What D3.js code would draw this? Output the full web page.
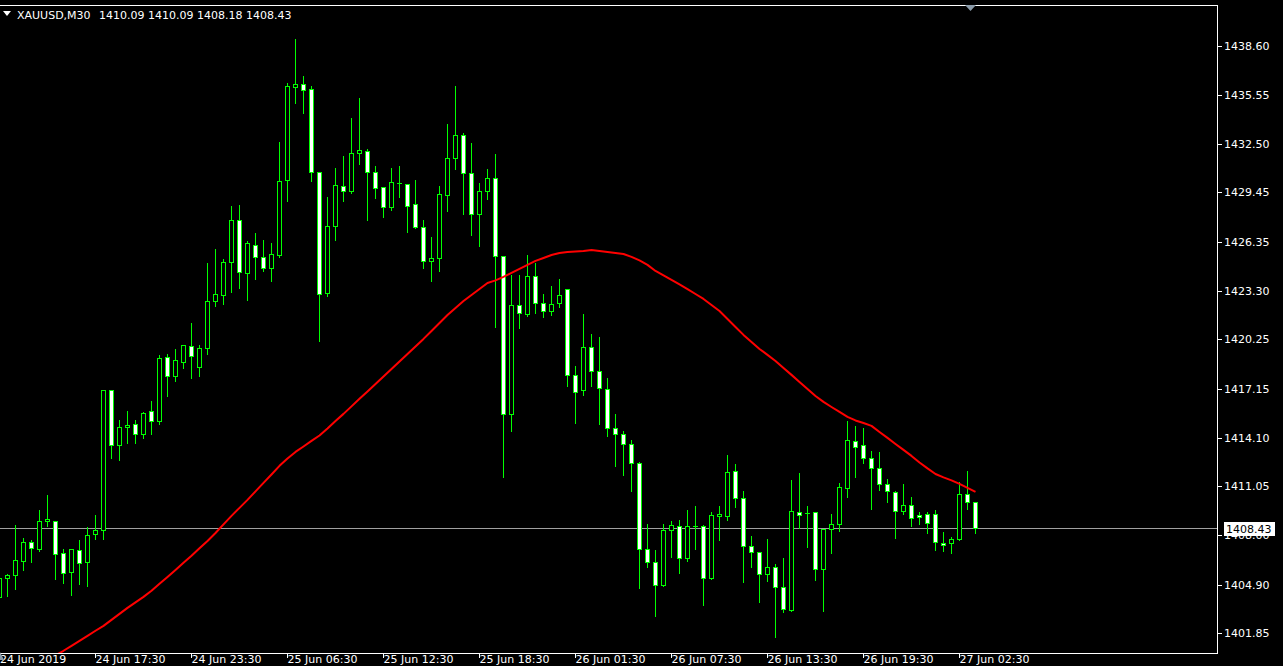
<!DOCTYPE html>
<html><head><meta charset="utf-8">
<script src="https://cdn.jsdelivr.net/npm/d3@7"></script>
<style>html,body{margin:0;padding:0;background:#000;overflow:hidden}svg{display:block}</style>
</head><body><svg id="c" width="1283" height="666"></svg>
<script>
const symbolLabel = "XAUUSD,M30";
const headerValues = ["1410.09", "1410.09", "1408.18", "1408.43"];
const bidPrice = 1408.43;

const opens = [1404.15,1405.32,1405.51,1406.38,1407.59,1407.11,1408.88,1408.91,1406.86,1405.69,1407.09,1406.32,1408.09,1408.34,1417.10,1413.63,1414.76,1414.93,1414.32,1415.74,1415.14,1419.16,1417.95,1418.83,1419.85,1418.51,1419.70,1422.64,1423.02,1425.10,1427.73,1424.39,1426.17,1425.42,1424.70,1425.52,1430.21,1436.02,1436.24,1435.92,1430.73,1423.14,1427.33,1429.86,1429.52,1431.92,1432.05,1430.73,1429.80,1428.52,1430.02,1429.98,1428.73,1427.29,1425.17,1425.35,1429.29,1431.61,1433.05,1430.67,1428.11,1429.54,1430.36,1425.48,1415.60,1422.42,1421.83,1424.23,1422.54,1422.04,1422.54,1423.42,1418.04,1417.10,1419.79,1418.29,1417.16,1414.72,1414.35,1413.72,1412.53,1407.16,1406.34,1404.88,1408.34,1408.59,1406.59,1408.59,1408.59,1405.34,1409.19,1409.19,1412.03,1410.34,1407.34,1406.97,1405.59,1406.03,1404.78,1403.34,1409.47,1409.38,1409.47,1405.91,1408.41,1408.69,1410.95,1413.91,1413.66,1412.85,1412.22,1411.22,1410.72,1409.51,1409.91,1409.28,1409.34,1409.34,1407.53,1407.53,1407.78,1410.60,1410.09];
const highs = [1405.55,1405.66,1408.68,1407.91,1407.78,1409.61,1410.55,1408.93,1407.17,1407.16,1407.74,1408.55,1409.30,1417.16,1417.12,1415.24,1415.80,1415.24,1415.74,1416.43,1419.31,1419.37,1419.68,1419.93,1421.31,1419.99,1425.06,1425.94,1425.35,1428.63,1428.69,1426.44,1426.94,1426.50,1426.37,1432.69,1436.38,1439.13,1436.76,1436.19,1430.81,1429.19,1431.06,1431.81,1434.19,1435.44,1432.23,1431.13,1429.81,1431.06,1431.13,1430.06,1430.31,1427.75,1426.70,1429.88,1433.77,1436.19,1433.21,1432.57,1430.08,1430.96,1431.88,1425.50,1424.35,1424.37,1425.62,1425.06,1423.18,1423.68,1424.12,1423.43,1418.62,1421.93,1420.62,1420.43,1417.87,1415.62,1414.60,1413.99,1412.62,1408.74,1407.11,1408.74,1408.93,1408.99,1409.61,1409.86,1408.68,1409.49,1409.86,1413.05,1412.49,1410.80,1408.03,1406.98,1407.80,1406.28,1406.61,1411.49,1411.93,1409.86,1409.53,1408.41,1409.36,1411.30,1415.18,1414.87,1414.74,1413.35,1413.24,1411.60,1410.82,1411.24,1410.47,1409.53,1409.53,1409.61,1408.24,1407.94,1411.41,1412.05,1410.09];
const lows = [1403.98,1404.24,1404.67,1405.86,1406.38,1407.07,1408.63,1405.30,1405.07,1404.30,1405.00,1404.88,1407.80,1407.82,1412.88,1412.74,1413.82,1413.82,1414.14,1414.37,1415.01,1416.76,1417.70,1418.51,1417.89,1418.01,1419.39,1422.39,1422.52,1423.27,1423.52,1422.77,1424.08,1424.58,1423.95,1425.44,1428.96,1435.09,1434.46,1430.21,1420.20,1423.00,1426.50,1428.96,1429.50,1431.27,1427.77,1429.14,1427.96,1428.38,1429.21,1427.02,1427.28,1424.77,1423.95,1424.58,1428.33,1430.96,1428.14,1426.83,1426.14,1429.11,1421.08,1411.70,1414.57,1421.01,1421.77,1421.95,1421.70,1421.85,1422.33,1417.39,1415.07,1416.85,1417.39,1415.01,1414.26,1412.38,1411.82,1410.82,1404.75,1406.07,1403.00,1404.87,1406.69,1405.69,1406.44,1407.19,1403.69,1405.33,1407.76,1408.99,1409.82,1405.13,1406.07,1403.88,1405.19,1401.69,1403.25,1403.33,1408.49,1407.32,1405.25,1403.32,1406.94,1408.32,1410.45,1411.70,1412.57,1409.69,1410.88,1410.11,1407.88,1409.38,1408.63,1408.76,1408.19,1407.13,1407.07,1406.94,1407.77,1409.69,1408.18];
const closes = [1405.34,1405.53,1406.42,1407.59,1407.19,1408.91,1408.99,1406.84,1405.66,1407.16,1406.28,1408.03,1408.34,1417.10,1413.63,1414.79,1414.87,1414.35,1415.62,1415.14,1419.10,1417.95,1418.98,1419.87,1419.20,1419.73,1422.67,1423.10,1425.10,1427.73,1424.48,1426.29,1425.42,1424.70,1425.60,1430.17,1436.11,1436.24,1435.84,1430.71,1423.06,1427.36,1429.88,1429.54,1431.92,1432.11,1430.73,1429.73,1428.54,1430.11,1430.02,1428.61,1427.29,1425.17,1425.35,1429.36,1431.61,1433.05,1430.67,1428.11,1429.54,1430.36,1425.48,1415.60,1422.42,1421.92,1424.23,1422.54,1422.04,1422.48,1423.04,1418.04,1416.97,1419.79,1418.29,1417.22,1414.72,1414.35,1413.72,1412.53,1407.16,1406.34,1404.90,1408.30,1408.66,1406.59,1408.59,1408.59,1405.34,1409.28,1409.30,1411.97,1410.32,1407.34,1406.97,1405.59,1406.03,1404.78,1403.38,1409.53,1409.28,1409.38,1405.91,1408.41,1408.72,1411.03,1413.97,1413.53,1412.82,1412.20,1411.20,1410.76,1409.51,1409.91,1409.09,1409.16,1408.76,1407.57,1407.41,1407.78,1410.60,1410.09,1408.43];
const maValues = [1398.61,1398.86,1399.11,1399.42,1399.67,1399.98,1400.23,1400.51,1400.80,1401.11,1401.42,1401.73,1402.05,1402.36,1402.73,1403.11,1403.48,1403.83,1404.17,1404.55,1404.99,1405.42,1405.86,1406.30,1406.74,1407.21,1407.67,1408.17,1408.71,1409.24,1409.74,1410.24,1410.77,1411.30,1411.83,1412.37,1412.83,1413.24,1413.58,1413.93,1414.27,1414.71,1415.18,1415.62,1416.09,1416.56,1417.02,1417.49,1417.96,1418.43,1418.90,1419.37,1419.84,1420.31,1420.81,1421.31,1421.81,1422.25,1422.68,1423.06,1423.43,1423.81,1423.97,1424.19,1424.44,1424.69,1424.94,1425.19,1425.37,1425.56,1425.69,1425.75,1425.78,1425.81,1425.87,1425.81,1425.75,1425.69,1425.62,1425.44,1425.22,1424.94,1424.56,1424.28,1424.00,1423.72,1423.43,1423.12,1422.81,1422.43,1422.06,1421.56,1421.06,1420.56,1420.12,1419.68,1419.31,1418.93,1418.49,1418.06,1417.62,1417.18,1416.74,1416.37,1416.05,1415.74,1415.43,1415.21,1415.05,1414.87,1414.49,1414.12,1413.74,1413.37,1412.99,1412.58,1412.21,1411.86,1411.65,1411.46,1411.24,1410.99,1410.74];

const priceTicks = [1438.60, 1435.55, 1432.50, 1429.45, 1426.35, 1423.30, 1420.25, 1417.15, 1414.10, 1411.05, 1408.00, 1404.90, 1401.85];
const timeTickIndex = [0, 12, 24, 36, 48, 60, 72, 84, 96, 108, 120];
const timeTickLabels = ["24 Jun 2019", "24 Jun 17:30", "24 Jun 23:30", "25 Jun 06:30", "25 Jun 12:30", "25 Jun 18:30", "26 Jun 01:30", "26 Jun 07:30", "26 Jun 13:30", "26 Jun 19:30", "27 Jun 02:30"];

const W = 1283, H = 666;
const plot = {left: 0, top: 5, right: 1217, bottom: 653};
const FONT = "DejaVu Sans, Tahoma, sans-serif";
const LIME = "#00ff00";

const svg = d3.select("#c");
svg.append("rect").attr("width", W).attr("height", H).attr("fill", "#000");

const n = opens.length;
const x = d3.scaleLinear().domain([0, n - 1]).range([-0.5, 975.5]);
const y = d3.scaleLinear().domain([1400.66, 1441.20]).range([plot.bottom, plot.top]);
const px = v => Math.round(v - 0.5) + 0.5;

svg.append("clipPath").attr("id", "clip").append("rect")
  .attr("x", plot.left).attr("y", plot.top)
  .attr("width", plot.right - plot.left).attr("height", plot.bottom - plot.top);

const g = svg.append("g").attr("clip-path", "url(#clip)");

// bid line
g.append("line").attr("x1", 0).attr("x2", plot.right)
  .attr("y1", px(y(bidPrice))).attr("y2", px(y(bidPrice)))
  .attr("stroke", "#a0a0a0").attr("stroke-width", 1).attr("shape-rendering", "crispEdges");

const data = d3.range(n).map(i => ({i, o: opens[i], h: highs[i], l: lows[i], c: closes[i]}));
const cg = g.append("g").attr("shape-rendering", "crispEdges");
const candle = cg.selectAll("g.cd").data(data).join("g").attr("class", "cd");
candle.append("line")
  .attr("x1", d => px(x(d.i))).attr("x2", d => px(x(d.i)))
  .attr("y1", d => px(y(d.h))).attr("y2", d => px(y(d.l)) + 1)
  .attr("stroke", LIME).attr("stroke-width", 1);
candle.each(function(d) {
  const cx = px(x(d.i));
  const yo = px(y(d.o)), yc = px(y(d.c));
  const sel = d3.select(this);
  if (yo === yc) {
    sel.append("line").attr("x1", cx - 2.5).attr("x2", cx + 2.5).attr("y1", yo).attr("y2", yo)
      .attr("stroke", LIME).attr("stroke-width", 1);
  } else {
    const top = Math.min(yo, yc), bot = Math.max(yo, yc);
    sel.append("rect").attr("x", cx - 2).attr("y", top).attr("width", 4).attr("height", bot - top)
      .attr("fill", d.c > d.o ? "#000" : "#fff").attr("stroke", LIME).attr("stroke-width", 1);
  }
});

// moving average
const ma = d3.line().x((d, i) => x(i)).y(d => y(d));
g.append("path").datum(maValues).attr("d", ma)
  .attr("fill", "none").attr("stroke", "#ff0000").attr("stroke-width", 2).attr("stroke-linejoin", "round");

// frame
svg.append("path")
  .attr("d", `M${plot.left},${plot.top + 0.5}H${plot.right + 0.5}V${plot.bottom + 0.5}H${plot.left}`)
  .attr("fill", "none").attr("stroke", "#fff").attr("stroke-width", 1).attr("shape-rendering", "crispEdges");

// price axis
const pa = svg.append("g");
priceTicks.forEach(p => {
  const yy = px(y(p));
  pa.append("line").attr("x1", plot.right + 1).attr("x2", plot.right + 5).attr("y1", yy).attr("y2", yy)
    .attr("stroke", "#fff").attr("shape-rendering", "crispEdges");
  pa.append("text").attr("x", 1224).attr("y", yy).attr("dy", "0.36em")
    .attr("fill", "#fff").attr("font-family", FONT).attr("font-size", 11).text(p.toFixed(2));
});
// bid label box
const by = y(bidPrice);
pa.append("rect").attr("x", 1224).attr("y", Math.round(by) - 7).attr("width", 51).attr("height", 14).attr("fill", "#fff");
pa.append("text").attr("x", 1226).attr("y", by).attr("dy", "0.36em")
  .attr("fill", "#000").attr("font-family", FONT).attr("font-size", 11).text(bidPrice.toFixed(2));

// time axis
const ta = svg.append("g");
timeTickIndex.forEach((idx, k) => {
  const xx = px(x(idx));
  if (k > 0) ta.append("line").attr("x1", xx).attr("x2", xx).attr("y1", plot.bottom + 1).attr("y2", plot.bottom + 5)
    .attr("stroke", "#fff").attr("shape-rendering", "crispEdges");
  ta.append("text").attr("x", Math.max(xx, 0)).attr("y", 663)
    .attr("fill", "#fff").attr("font-family", FONT).attr("font-size", 11).text(timeTickLabels[k]);
});

// header
svg.append("path").attr("d", "M3,11L11,11L7,16Z").attr("fill", "#fff");
svg.append("text").attr("x", 17).attr("y", 19).attr("fill", "#fff").attr("font-family", FONT).attr("font-size", 11).text(symbolLabel);
svg.append("text").attr("x", 99).attr("y", 19).attr("fill", "#fff").attr("font-family", FONT).attr("font-size", 11).text(headerValues.join(" "));

// shift marker
svg.append("path").attr("d", "M965,5L976,5L970.5,11Z").attr("fill", "#8a9aa8");
svg.append("path").attr("d", "M0,652L4,660L0,660Z").attr("fill", "#8a9aa8");
</script></body></html>
